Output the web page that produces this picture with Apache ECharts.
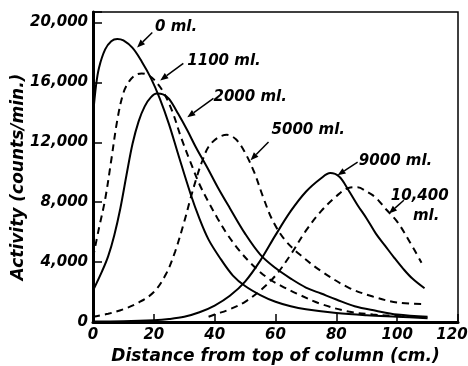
<!DOCTYPE html>
<html><head><meta charset="utf-8">
<script src="https://cdn.jsdelivr.net/npm/echarts@6/dist/echarts.min.js"></script>
<style>html,body{margin:0;padding:0;background:#fff}#c{width:468px;height:366px}</style>
</head><body><div id="c"></div>
<script>
// x = distance from top of column (cm), y = activity (counts/min)
const xTicks = [0, 20, 40, 60, 80, 100, 120];
const yTicks = [0, 4000, 8000, 12000, 16000, 20000];
const seriesNames = ['0 ml.', '1100 ml.', '2000 ml.', '5000 ml.', '9000 ml.', '10,400 ml.'];
const ml0 = [[0,13800],[1,15800],[2,17000],[4,18200],[6,18750],[8,18900],[10,18800],[13,18300],[16,17400],[19,16300],[22,14900],[25,13200],[28,11200],[32,8600],[35,6900],[38,5500],[42,4200],[46,3100],[50,2400],[55,1800],[60,1350],[65,1050],[70,850],[80,600],[90,450],[100,350],[110,250]];
const ml1100 = [[0,4300],[2,6300],[4,8200],[6,10800],[8,13500],[10,15300],[12,16100],[14,16500],[16,16600],[18,16500],[20,16200],[23,15400],[26,14100],[29,12300],[32,10700],[35,9200],[38,8000],[41,6900],[44,5900],[48,4800],[52,3900],[57,3000],[62,2400],[67,1900],[75,1200],[84,700],[92,500],[100,400],[110,300]];
const ml2000 = [[0,2100],[3,3400],[5,4400],[7,5800],[9,7600],[11,9800],[13,11900],[15,13400],[17,14400],[19,15000],[21,15250],[23,15200],[25,14900],[28,13900],[31,12800],[34,11600],[37.6,10300],[41,9000],[45,7600],[50,5900],[55,4500],[60,3600],[65,2900],[70,2300],[75,1900],[80,1500],[86,1050],[93,750],[100,500],[110,350]];
const ml5000 = [[0,350],[5,550],[10,850],[15,1300],[20,2000],[24,3200],[27,4700],[30,6700],[32,8200],[34,9600],[36,10800],[38,11700],[41,12300],[44,12500],[47,12200],[50,11300],[53,10000],[56,8300],[59,6800],[63,5500],[68,4500],[75,3400],[84,2300],[92,1700],[100,1300],[108,1200]];
const ml9000 = [[0,30],[10,50],[20,120],[25,200],[30,350],[35,650],[40,1100],[45,1750],[50,2700],[55,4100],[60,5800],[65,7400],[70,8700],[75,9600],[78,9950],[81,9700],[84,8800],[87,7800],[90,6900],[93,5900],[96,5100],[99,4300],[102,3550],[105,2900],[109,2250]];
const ml10400 = [[38,350],[40,500],[45,850],[50,1350],[55,2100],[60,3100],[65,4500],[70,6100],[75,7400],[80,8400],[84,8950],[87,9000],[90,8700],[93,8300],[96,7600],[100,6700],[104,5400],[108,3950]];
// annotations: label anchor, arrow tail, arrow tip (data coordinates)
const notes = [
  {text:'0 ml.', at:[20.4,19670], tail:[19.5,19330], tip:[14.5,18330]},
  {text:'1100 ml.', at:[31,17400], tail:[29.7,17270], tip:[22.1,16130]},
  {text:'2000 ml.', at:[39.6,15000], tail:[39.6,14930], tip:[31,13670]},
  {text:'5000 ml.', at:[58.7,12800], tail:[57.7,12020], tip:[51.8,10800]},
  {text:'9000 ml.', at:[87.4,10730], tail:[87,10670], tip:[80.4,9800]},
  {text:'10,400', at:[97.9,8400], tail:[102.2,8130], tip:[97.3,7250]},
  {text:'ml.', at:[105.2,7070], tail:null, tip:null}
];
const FONT = 'DejaVu Sans';
const chart = echarts.init(document.getElementById('c'), null, {renderer:'canvas'});
function fmt(v){ return String(v).replace(/\B(?=(\d{3})+(?!\d))/g, ','); }
function mk(name, data, dashed){
  return {name, type:'line', data, smooth:0.35, showSymbol:false, symbol:'none',
    lineStyle:{color:'#000', width:2, type: dashed ? [7,5] : 'solid'}, z:3, silent:true};
}
const lblFont = {color:'#000', fontFamily:FONT, fontStyle:'italic', fontWeight:'bold', fontSize:15};
chart.setOption({
  animation:false,
  grid:{left:93, right:10, top:12, bottom:44, show:true, borderColor:'#000', borderWidth:1.5,
    outerBoundsMode:'none', containLabel:false},
  xAxis:{type:'value', min:0, max:120, interval:20,
    axisLine:{lineStyle:{color:'#000', width:3}},
    axisTick:{inside:true, length:8, lineStyle:{color:'#000', width:1.5}},
    axisLabel:Object.assign({}, lblFont, {margin:6,
      formatter:v => !xTicks.includes(v) ? '' : (v === xTicks[xTicks.length-1] ? '{m|' + v + '}' : String(v)),
      rich:{m:Object.assign({}, lblFont, {padding:[0,12,0,0]})}}),
    splitLine:{show:false},
    name:'Distance from top of column (cm.)', nameLocation:'middle', nameGap:23,
    nameTextStyle:{color:'#000', fontFamily:FONT, fontStyle:'italic', fontWeight:'bold', fontSize:17}},
  yAxis:{type:'value', min:0, max:20700, interval:4000,
    axisLine:{lineStyle:{color:'#000', width:3}},
    axisTick:{inside:true, length:9, lineStyle:{color:'#000', width:1.5}},
    axisLabel:Object.assign({}, lblFont, {margin:5,
      formatter:v => yTicks.includes(v) ? fmt(v) : ''}),
    splitLine:{show:false}},
  series:[mk(seriesNames[0], ml0, false), mk(seriesNames[1], ml1100, true), mk(seriesNames[2], ml2000, false),
          mk(seriesNames[3], ml5000, true), mk(seriesNames[4], ml9000, false), mk(seriesNames[5], ml10400, true)]
});
const g = [];
notes.forEach(n => {
  const p = chart.convertToPixel({gridIndex:0}, n.at);
  g.push({type:'text', x:p[0], y:p[1], z:10, style:{text:n.text, fill:'#000', font:'italic bold 15px "DejaVu Sans"', textAlign:'left', textVerticalAlign:'middle'}});
  if (n.tail) {
    const a = chart.convertToPixel({gridIndex:0}, n.tail);
    const b = chart.convertToPixel({gridIndex:0}, n.tip);
    const dx = b[0]-a[0], dy = b[1]-a[1], L = Math.hypot(dx,dy), ux = dx/L, uy = dy/L;
    const hl = 8, hw = 3.2;
    const bx = b[0]-ux*hl, by = b[1]-uy*hl;
    g.push({type:'line', z:10, shape:{x1:a[0], y1:a[1], x2:bx, y2:by}, style:{stroke:'#000', lineWidth:1.5}});
    g.push({type:'polygon', z:10, shape:{points:[[b[0],b[1]],[bx-uy*hw, by+ux*hw],[bx+uy*hw, by-ux*hw]]}, style:{fill:'#000'}});
  }
});
g.push({type:'text', x:19, y:177, rotation:Math.PI/2, z:10,
  style:{text:'Activity (counts/min.)', fill:'#000', font:'italic bold 17px "DejaVu Sans"', textAlign:'center', textVerticalAlign:'middle'}});
chart.setOption({graphic:g});
</script></body></html>
